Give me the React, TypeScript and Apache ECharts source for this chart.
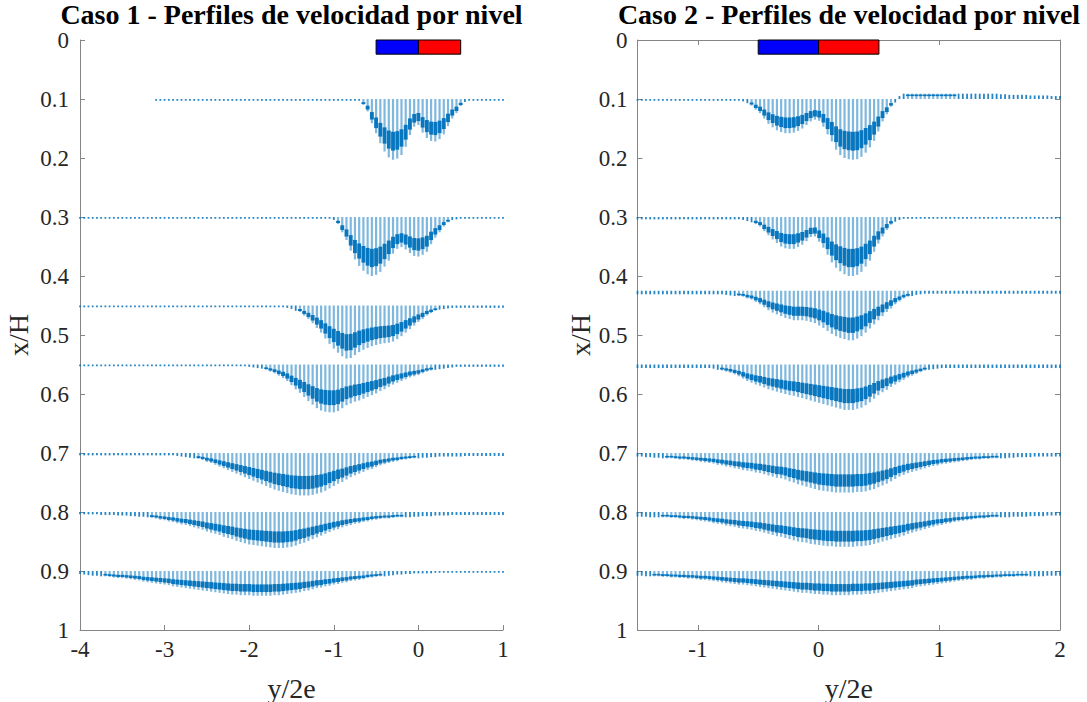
import React, { useEffect, useRef } from "react";
import * as echarts from "echarts";

// ---------- data ----------
const levelsCaso1 = [0.1, 0.3, 0.45, 0.55, 0.7, 0.8, 0.9];
const levelsCaso2 = [0.1, 0.3, 0.425, 0.55, 0.7, 0.8, 0.9];

// arrow positions (y/2e)
const xCaso1 = [
  -4, -3.95, -3.9, -3.85, -3.8, -3.75, -3.7, -3.65, -3.6, -3.55,
  -3.5, -3.45, -3.4, -3.35, -3.3, -3.25, -3.2, -3.15, -3.1, -3.05,
  -3, -2.95, -2.9, -2.85, -2.8, -2.75, -2.7, -2.65, -2.6, -2.55,
  -2.5, -2.45, -2.4, -2.35, -2.3, -2.25, -2.2, -2.15, -2.1, -2.05,
  -2, -1.95, -1.9, -1.85, -1.8, -1.75, -1.7, -1.65, -1.6, -1.55,
  -1.5, -1.45, -1.4, -1.35, -1.3, -1.25, -1.2, -1.15, -1.1, -1.05,
  -1, -0.95, -0.9, -0.85, -0.8, -0.75, -0.7, -0.65, -0.6, -0.55,
  -0.5, -0.45, -0.4, -0.35, -0.3, -0.25, -0.2, -0.15, -0.1, -0.05,
  0, 0.05, 0.1, 0.15, 0.2, 0.25, 0.3, 0.35, 0.4, 0.45,
  0.5, 0.55, 0.6, 0.65, 0.7, 0.75, 0.8, 0.85, 0.9, 0.95,
  1,
];
const xCaso2 = [
  -1.5, -1.465, -1.43, -1.395, -1.36, -1.325, -1.29, -1.255, -1.22, -1.185,
  -1.15, -1.115, -1.08, -1.045, -1.01, -0.975, -0.94, -0.905, -0.87, -0.835,
  -0.8, -0.765, -0.73, -0.695, -0.66, -0.625, -0.59, -0.555, -0.52, -0.485,
  -0.45, -0.415, -0.38, -0.345, -0.31, -0.275, -0.24, -0.205, -0.17, -0.135,
  -0.1, -0.065, -0.03, 0.005, 0.04, 0.075, 0.11, 0.145, 0.18, 0.215,
  0.25, 0.285, 0.32, 0.355, 0.39, 0.425, 0.46, 0.495, 0.53, 0.565,
  0.6, 0.635, 0.67, 0.705, 0.74, 0.775, 0.81, 0.845, 0.88, 0.915,
  0.95, 0.985, 1.02, 1.055, 1.09, 1.125, 1.16, 1.195, 1.23, 1.265,
  1.3, 1.335, 1.37, 1.405, 1.44, 1.475, 1.51, 1.545, 1.58, 1.615,
  1.65, 1.685, 1.72, 1.755, 1.79, 1.825, 1.86, 1.895, 1.93, 1.965,
  2,
];

// arrow lengths in thousandths of x/H (positive = downward)
const c1_010 = [
  0, 0, 0, 0, 0, 0, 0, 0, 0, 0,
  0, 0, 0, 0, 0, 0, 0, 0, 2, 2,
  2, 2, 2, 2, 2, 2, 2, 2, 2, 2,
  2, 2, 2, 2, 2, 2, 2, 2, 2, 2,
  2, 2, 2, 2, 2, 2, 2, 2, 2, 2,
  2, 2, 2, 2, 2, 2, 2, 2, 2, 2,
  2, 2, 2, 2, 2, 2, 2, 10, 21, 41,
  58, 75, 89, 99, 103, 101, 95, 81, 61, 47,
  44, 57, 66, 71, 72, 68, 60, 46, 33, 24,
  12, 4, 2, 2, 2, 2, 2, 2, 2, 2,
  2,
];
const c1_030 = [
  2, 2, 2, 2, 2, 2, 2, 2, 2, 2,
  2, 2, 2, 2, 2, 2, 2, 2, 2, 2,
  2, 2, 2, 2, 2, 2, 2, 2, 2, 2,
  2, 2, 2, 2, 2, 2, 2, 2, 2, 2,
  2, 2, 2, 2, 2, 2, 2, 2, 2, 2,
  2, 2, 2, 2, 2, 2, 2, 2, 2, 2,
  4, 12, 26, 39, 57, 72, 83, 91, 97, 100,
  98, 93, 84, 74, 62, 54, 51, 55, 61, 66,
  67, 64, 59, 46, 35, 26, 16, 9, 4, 3,
  2, 2, 2, 2, 2, 2, 2, 2, 2, 2,
  2,
];
const c1_045 = [
  2, 2, 2, 2, 2, 2, 2, 2, 2, 2,
  2, 2, 2, 2, 2, 2, 2, 2, 2, 2,
  2, 2, 2, 2, 2, 2, 2, 2, 2, 2,
  2, 2, 2, 2, 2, 2, 2, 2, 2, 2,
  2, 2, 2, 2, 2, 2, 2, 2, 2, 3,
  5, 8, 11, 17, 23, 30, 38, 46, 56, 65,
  73, 80, 86, 90, 89, 84, 79, 75, 72, 69,
  67, 65, 64, 63, 61, 57, 52, 46, 40, 34,
  28, 23, 17, 13, 9, 6, 5, 4, 3, 3,
  3, 3, 3, 3, 3, 3, 3, 3, 3, 3,
  3,
];
const c1_055 = [
  2, 2, 2, 2, 2, 2, 2, 2, 2, 2,
  2, 2, 2, 2, 2, 2, 2, 2, 2, 2,
  2, 2, 2, 2, 2, 2, 2, 2, 2, 2,
  2, 2, 2, 2, 2, 2, 2, 2, 2, 2,
  3, 4, 5, 6, 9, 12, 15, 19, 23, 28,
  35, 42, 48, 55, 62, 68, 74, 78, 80, 81,
  81, 79, 74, 69, 66, 63, 61, 58, 55, 52,
  49, 45, 42, 38, 34, 31, 28, 25, 22, 20,
  18, 15, 12, 10, 8, 7, 6, 5, 4, 3,
  3, 3, 3, 3, 3, 3, 3, 3, 3, 3,
  3,
];
const c1_070 = [
  3, 3, 3, 3, 3, 3, 3, 3, 3, 3,
  3, 3, 3, 3, 3, 3, 3, 3, 3, 3,
  3, 3, 3, 4, 5, 6, 7, 8, 10, 12,
  15, 17, 20, 23, 26, 29, 32, 35, 38, 41,
  44, 47, 50, 53, 56, 59, 62, 64, 66, 68,
  70, 71, 72, 72, 72, 71, 69, 67, 64, 60,
  56, 52, 49, 45, 41, 38, 35, 32, 29, 27,
  24, 21, 19, 17, 15, 14, 12, 11, 10, 9,
  8, 7, 7, 6, 6, 5, 5, 5, 5, 5,
  5, 4, 4, 4, 4, 4, 4, 4, 4, 4,
  4,
];
const c1_080 = [
  3, 3, 3, 3, 3, 4, 4, 4, 4, 5,
  5, 5, 6, 6, 7, 7, 8, 10, 11, 13,
  14, 16, 17, 19, 21, 22, 24, 26, 28, 30,
  33, 35, 37, 39, 42, 44, 46, 49, 51, 53,
  55, 56, 57, 58, 59, 60, 61, 61, 61, 60,
  59, 57, 54, 52, 49, 46, 43, 40, 37, 34,
  31, 29, 26, 24, 22, 20, 19, 17, 16, 14,
  13, 12, 11, 11, 10, 9, 9, 8, 8, 7,
  7, 6, 6, 6, 5, 5, 5, 5, 4, 4,
  4, 4, 4, 4, 4, 4, 4, 4, 4, 4,
  4,
];
const c1_090 = [
  4, 5, 6, 7, 7, 8, 9, 10, 11, 12,
  12, 13, 14, 15, 16, 18, 19, 20, 21, 22,
  23, 24, 26, 27, 28, 29, 30, 31, 32, 33,
  34, 35, 36, 37, 38, 39, 40, 40, 41, 41,
  41, 42, 42, 42, 42, 42, 41, 41, 40, 39,
  38, 37, 36, 34, 33, 31, 29, 28, 26, 25,
  23, 22, 20, 19, 17, 16, 15, 14, 12, 11,
  10, 9, 8, 7, 6, 5, 5, 4, 4, 3,
  3, 3, 3, 3, 2, 2, 2, 2, 2, 2,
  2, 2, 2, 2, 2, 2, 2, 2, 2, 2,
  2,
];

const c2_010 = [
  2, 2, 2, 2, 2, 2, 2, 2, 2, 2,
  2, 2, 2, 2, 2, 2, 2, 2, 2, 2,
  2, 2, 2, 2, 2, 3, 6, 11, 18, 24,
  33, 42, 48, 53, 56, 58, 58, 57, 54, 50,
  44, 38, 35, 37, 47, 60, 72, 86, 95, 100,
  102, 103, 102, 98, 91, 82, 71, 55, 38, 26,
  13, 5, -4, -8, -9, -9, -9, -9, -9, -9,
  -9, -9, -9, -9, -9, -9, -8, -8, -8, -8,
  -8, -8, -8, -8, -8, -8, -7, -7, -6, -6,
  -6, -6, -6, -5, -5, -5, -5, -5, -4, -4,
  -4,
];
const c2_030 = [
  3, 3, 3, 3, 3, 3, 3, 3, 3, 3,
  3, 3, 3, 3, 3, 3, 3, 3, 3, 3,
  3, 3, 3, 3, 3, 4, 6, 8, 12, 16,
  24, 31, 38, 44, 50, 53, 54, 54, 51, 47,
  41, 34, 33, 42, 52, 64, 77, 86, 92, 97,
  100, 100, 98, 93, 84, 74, 59, 45, 33, 22,
  13, 7, 4, 2, 2, 2, 2, 2, 2, 2,
  2, 2, 2, 2, 2, 2, 2, 2, 2, 2,
  2, 2, 2, 2, 2, 2, 2, 2, 2, 2,
  2, 2, 2, 2, 2, 2, 2, 2, 2, 2,
  2,
];
const c2_0425 = [
  5, 5, 5, 5, 5, 5, 5, 5, 5, 5,
  5, 5, 5, 5, 5, 5, 5, 5, 5, 5,
  5, 6, 7, 8, 9, 10, 13, 15, 19, 23,
  28, 33, 37, 40, 43, 46, 48, 50, 50, 50,
  51, 53, 55, 59, 63, 68, 73, 77, 80, 82,
  84, 84, 81, 77, 71, 64, 57, 50, 43, 36,
  30, 23, 18, 13, 10, 8, 6, 5, 4, 4,
  4, 4, 4, 4, 4, 4, 4, 4, 4, 4,
  4, 4, 4, 4, 4, 4, 4, 4, 4, 4,
  4, 4, 4, 4, 4, 4, 4, 4, 4, 4,
  4,
];
const c2_055 = [
  5, 5, 5, 5, 5, 5, 5, 5, 5, 5,
  5, 5, 5, 5, 5, 5, 5, 5, 6, 8,
  10, 12, 14, 17, 20, 24, 28, 31, 34, 36,
  39, 42, 44, 46, 48, 50, 52, 53, 55, 57,
  59, 61, 63, 65, 67, 69, 71, 73, 75, 77,
  77, 77, 75, 73, 69, 64, 58, 52, 47, 43,
  38, 34, 30, 26, 22, 19, 16, 13, 10, 8,
  7, 6, 5, 5, 5, 5, 5, 5, 5, 5,
  5, 5, 5, 5, 5, 5, 5, 5, 5, 5,
  5, 5, 5, 5, 5, 5, 5, 5, 5, 5,
  5,
];
const c2_070 = [
  5, 5, 6, 6, 7, 7, 8, 9, 9, 10,
  11, 11, 12, 13, 14, 15, 16, 17, 18, 20,
  21, 23, 24, 26, 27, 29, 30, 31, 33, 34,
  36, 38, 40, 42, 43, 45, 48, 50, 53, 55,
  57, 59, 61, 63, 64, 65, 66, 67, 67, 67,
  67, 67, 66, 66, 65, 63, 61, 58, 55, 52,
  48, 44, 40, 37, 34, 32, 30, 28, 26, 24,
  22, 21, 19, 18, 17, 16, 15, 14, 13, 12,
  11, 11, 10, 10, 9, 9, 8, 8, 7, 7,
  6, 6, 6, 6, 5, 5, 5, 5, 5, 5,
  5,
];
const c2_080 = [
  7, 7, 7, 8, 8, 8, 9, 9, 10, 10,
  11, 12, 12, 13, 14, 15, 16, 17, 19, 20,
  21, 23, 24, 25, 27, 28, 29, 30, 32, 33,
  35, 37, 39, 41, 42, 44, 46, 48, 50, 51,
  52, 54, 55, 56, 57, 58, 58, 59, 59, 59,
  59, 59, 58, 58, 57, 56, 54, 52, 50, 48,
  46, 44, 42, 40, 37, 35, 33, 31, 29, 27,
  25, 23, 22, 20, 19, 17, 16, 15, 14, 13,
  12, 11, 11, 10, 9, 9, 8, 8, 8, 7,
  7, 7, 7, 6, 6, 6, 6, 5, 5, 5,
  5,
];
const c2_090 = [
  7, 7, 8, 8, 9, 9, 10, 10, 11, 11,
  12, 12, 13, 13, 14, 15, 15, 16, 17, 18,
  19, 20, 21, 22, 23, 23, 24, 25, 26, 27,
  28, 29, 30, 31, 32, 33, 34, 35, 36, 37,
  37, 38, 39, 39, 40, 40, 41, 41, 41, 41,
  41, 40, 40, 40, 39, 39, 38, 37, 36, 35,
  34, 33, 32, 31, 30, 29, 27, 26, 25, 24,
  23, 22, 21, 20, 19, 18, 17, 16, 15, 15,
  14, 13, 13, 12, 12, 11, 11, 10, 10, 10,
  9, 9, 9, 8, 8, 8, 8, 7, 7, 7,
  7,
];

const profilesCaso1 = [c1_010, c1_030, c1_045, c1_055, c1_070, c1_080, c1_090];
const profilesCaso2 = [c2_010, c2_030, c2_0425, c2_055, c2_070, c2_080, c2_090];

// colour bar near the top
const barEdges = [-0.5, 0, 0.5];
const barDepth = [0, 0.024];

const xTicksCaso2 = [-1, 0, 1, 2];
const titles = [
  "Caso 1 - Perfiles de velocidad por nivel",
  "Caso 2 - Perfiles de velocidad por nivel",
];

// ---------- styles ----------
const FONT = "Liberation Serif";
const BLUE = "#0072BD";
const AXIS_GRAY = "#858585";
const TEXT = "#262626";
const BAR_COLORS = ["#0000FF", "#FF0000"];

function buildArrows(xs: number[], levels: number[], profiles: number[][]) {
  const out: number[][] = [];
  levels.forEach((lv, k) => {
    profiles[k].forEach((d, i) => {
      if (xs[i] !== undefined) out.push([xs[i], lv, d]);
    });
  });
  return out;
}

function buildBar() {
  const out: number[][] = [];
  for (let i = 0; i < barEdges.length - 1; i++) {
    out.push([barEdges[i], barEdges[i + 1], barDepth[0], barDepth[1], i]);
  }
  return out;
}

function renderArrow(_params: any, api: any) {
  const x = api.value(0);
  const lv = api.value(1);
  const d = api.value(2) / 1000;
  if (!d) return { type: "group", children: [] };
  const b = api.coord([x, lv]);
  const t = api.coord([x, lv + d]);
  const L = Math.abs(t[1] - b[1]);
  if (L < 5) {
    return {
      type: "line",
      shape: { x1: b[0], y1: b[1], x2: t[0], y2: t[1] + (t[1] > b[1] ? 0.6 : -0.6) },
      style: { stroke: BLUE, lineWidth: 1.8, opacity: 0.85 },
    };
  }
  const h1 = api.coord([x, lv + d * 0.54]);
  const h2 = api.coord([x, lv + d * 0.85]);
  return {
    type: "group",
    children: [
      {
        type: "line",
        shape: { x1: b[0], y1: b[1], x2: t[0], y2: t[1] },
        style: { stroke: BLUE, lineWidth: 2.2, opacity: 0.5 },
      },
      {
        type: "line",
        shape: { x1: h1[0], y1: h1[1], x2: h2[0], y2: h2[1] },
        style: { stroke: BLUE, lineWidth: 3.9, opacity: 0.95 },
      },
    ],
  };
}

function renderBar(_params: any, api: any) {
  const p0 = api.coord([api.value(0), api.value(2)]);
  const p1 = api.coord([api.value(1), api.value(3)]);
  return {
    type: "rect",
    shape: { x: p0[0], y: p0[1], width: p1[0] - p0[0], height: p1[1] - p0[1] },
    style: { fill: BAR_COLORS[api.value(4)], stroke: "#000", lineWidth: 1 },
  };
}

const tickLabel = { fontFamily: FONT, fontSize: 23, lineHeight: 18, color: TEXT };
const nameStyle = { fontFamily: FONT, fontSize: 28, color: TEXT };
const lineStyle = { color: AXIS_GRAY, width: 1 };

export default function App() {
  const ref = useRef<HTMLDivElement>(null);
  useEffect(() => {
    if (!ref.current) return;
    const chart = echarts.init(ref.current, null, { renderer: "svg" });
    const titleStyle = {
      align: "center",
      verticalAlign: "middle",
      fontFamily: FONT,
      fontSize: 28,
      lineHeight: 26,
      fontWeight: "bold",
      fill: "#000",
    };
    const option: any = {
      animation: false,
      backgroundColor: "#ffffff",
      textStyle: { fontFamily: FONT },
      grid: [
        { left: 80, top: 40, width: 423, height: 590, containLabel: false, outerBoundsMode: "none" },
        { left: 637.5, top: 40, width: 422.5, height: 590, containLabel: false, outerBoundsMode: "none" },
      ],
      graphic: [
        { type: "text", x: 291.5, y: 14, style: { text: titles[0], ...titleStyle } },
        { type: "text", x: 849, y: 14, style: { text: titles[1], ...titleStyle } },
      ],
      xAxis: [
        {
          gridIndex: 0,
          type: "value",
          min: -4,
          max: 1,
          interval: 1,
          position: "bottom",
          axisLine: { show: true, onZero: false, lineStyle },
          axisTick: { show: true, inside: true, length: 5, lineStyle },
          axisLabel: { ...tickLabel, margin: 10 },
          splitLine: { show: false },
          name: "y/2e",
          nameLocation: "middle",
          nameGap: 44,
          nameTextStyle: nameStyle,
        },
        {
          gridIndex: 1,
          type: "value",
          min: -1.5,
          max: 2,
          position: "bottom",
          axisLine: { show: true, onZero: false, lineStyle },
          axisTick: { show: true, inside: true, length: 5, lineStyle, customValues: xTicksCaso2 },
          axisLabel: { ...tickLabel, margin: 10, customValues: xTicksCaso2 },
          splitLine: { show: false },
          name: "y/2e",
          nameLocation: "middle",
          nameGap: 44,
          nameTextStyle: nameStyle,
        },
        {
          gridIndex: 1,
          type: "value",
          min: -1.5,
          max: 2,
          position: "top",
          axisLine: { show: true, onZero: false, lineStyle },
          axisTick: { show: true, inside: true, length: 5, lineStyle, customValues: xTicksCaso2 },
          axisLabel: { show: false, customValues: xTicksCaso2 },
          splitLine: { show: false },
        },
      ],
      yAxis: [
        {
          gridIndex: 0,
          type: "value",
          min: 0,
          max: 1,
          interval: 0.1,
          inverse: true,
          position: "left",
          axisLine: { show: true, onZero: false, lineStyle },
          axisTick: { show: true, inside: true, length: 5, lineStyle },
          axisLabel: { ...tickLabel, margin: 11 },
          splitLine: { show: false },
          name: "x/H",
          nameLocation: "middle",
          nameGap: 48,
          nameRotate: 90,
          nameTextStyle: nameStyle,
        },
        {
          gridIndex: 1,
          type: "value",
          min: 0,
          max: 1,
          interval: 0.1,
          inverse: true,
          position: "left",
          axisLine: { show: true, onZero: false, lineStyle },
          axisTick: { show: true, inside: true, length: 5, lineStyle },
          axisLabel: { ...tickLabel, margin: 10 },
          splitLine: { show: false },
          name: "x/H",
          nameLocation: "middle",
          nameGap: 43,
          nameRotate: 90,
          nameTextStyle: nameStyle,
        },
        {
          gridIndex: 1,
          type: "value",
          min: 0,
          max: 1,
          interval: 0.1,
          inverse: true,
          position: "right",
          axisLine: { show: true, onZero: false, lineStyle },
          axisTick: { show: true, inside: true, length: 5, lineStyle },
          axisLabel: { show: false },
          splitLine: { show: false },
        },
      ],
      series: [
        {
          type: "custom",
          name: "Caso 1",
          xAxisIndex: 0,
          yAxisIndex: 0,
          renderItem: renderArrow,
          data: buildArrows(xCaso1, levelsCaso1, profilesCaso1),
          progressive: 0,
          silent: true,
        },
        {
          type: "custom",
          name: "Caso 2",
          xAxisIndex: 1,
          yAxisIndex: 1,
          renderItem: renderArrow,
          data: buildArrows(xCaso2, levelsCaso2, profilesCaso2),
          progressive: 0,
          silent: true,
        },
        {
          type: "custom",
          xAxisIndex: 0,
          yAxisIndex: 0,
          renderItem: renderBar,
          data: buildBar(),
          silent: true,
          z: 5,
        },
        {
          type: "custom",
          xAxisIndex: 1,
          yAxisIndex: 1,
          renderItem: renderBar,
          data: buildBar(),
          silent: true,
          z: 5,
        },
      ],
    };
    chart.setOption(option);
    return () => chart.dispose();
  }, []);
  return (
    <div
      ref={ref}
      style={{ position: "fixed", left: 0, top: 0, width: 1087, height: 702, background: "#fff" }}
    />
  );
}
